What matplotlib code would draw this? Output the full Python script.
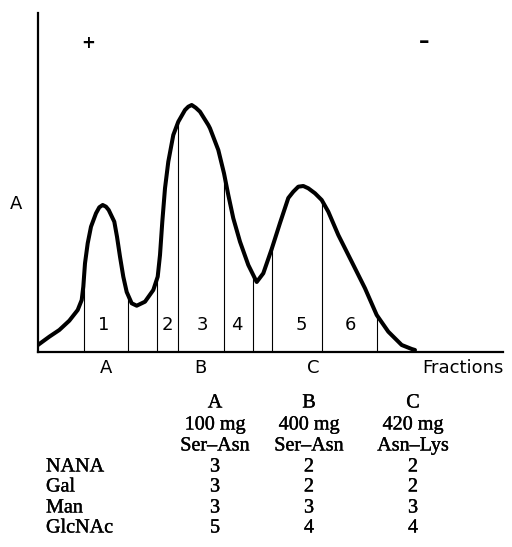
import numpy as np
import matplotlib
matplotlib.use('Agg')
import matplotlib.pyplot as plt
import matplotlib.patheffects as pe

# elution profile (fraction position, absorbance), arbitrary units
pos = [0, 1.3, 11.3, 21.3, 31.3, 39.7, 43.7, 45.3, 47, 49.7, 53, 58, 61.3, 64.7, 68,
       70.7, 76.3, 79, 82, 85.3, 88.7, 93.7, 98.7, 107, 115.3, 119.7, 122, 124.3, 127,
       130.3, 135.3, 140.3, 147, 150.3, 153.7, 157.7, 162, 170.3, 172, 180.3, 186, 190.3,
       195.3, 202, 210.3, 218.7, 225.3, 233.7, 242, 250.3, 255.3, 260.3, 265.3, 270.3,
       277, 283.7, 290.3, 300.3, 313.7, 327, 338.7, 350.3, 363.7, 373.7, 377]
absb = [7, 8, 15.3, 22, 31.3, 42, 52, 65.3, 88.7, 108.7, 125.3, 138.7, 144.7, 147, 145.3,
        142, 130.3, 115.3, 95.3, 75.3, 60, 48.7, 46.3, 50.3, 62, 75.3, 97, 130.3, 163.7,
        190.3, 217, 230.3, 242, 245.3, 247, 244.3, 240.3, 227, 223.7, 202, 178.7, 157,
        133.7, 110.3, 87, 70, 78.7, 103, 129, 154, 160.3, 165.3, 166, 163.7, 158.7, 152,
        140.3, 117, 90.3, 63.7, 37, 20.3, 7, 3, 2]
# fraction boundaries
cuts = [46, 90, 119, 140, 186, 214.5, 234, 284, 339]
frac_nums = ['1', '2', '3', '4', '5', '6']
frac_num_x = [66, 129, 164, 199, 263, 312]
peak_names = ['A', 'B', 'C']
peak_x = [68, 162, 275]

# composition table
cols = ['A', 'B', 'C']
amounts = ['100 mg', '400 mg', '420 mg']
peptides = ['Ser\u2013Asn', 'Ser\u2013Asn', 'Asn\u2013Lys']
sugars = ['NANA', 'Gal', 'Man', 'GlcNAc']
counts = [[3, 2, 2],
          [3, 2, 2],
          [3, 3, 3],
          [5, 4, 4]]

W, H = 512, 547
fig = plt.figure(figsize=(W/100, H/100), dpi=100)
ax = fig.add_axes([38/W, 1-352/H, 465/W, 339/H])
ax.set_xlim(0, 465)
ax.set_ylim(0, 339)
for s in ['top', 'right']:
    ax.spines[s].set_visible(False)
for s in ['left', 'bottom']:
    ax.spines[s].set_linewidth(1.6)
ax.set_xticks([])
ax.set_yticks([])
ax.patch.set_alpha(0)

ax.plot(pos, absb, color='black', lw=2.9, solid_joinstyle='round', solid_capstyle='round')
for c in cuts:
    ax.vlines(c, 0, np.interp(c, pos, absb), color='black', lw=0.8)
for n, x in zip(frac_nums, frac_num_x):
    ax.text(x, 27, n, ha='center', va='center', fontsize=13)
for n, x in zip(peak_names, peak_x):
    ax.text(x, -16, n, ha='center', va='center', fontsize=13, clip_on=False)
ax.text(384, -16, 'Fractions', ha='left', va='center', fontsize=13, clip_on=False)
ax.text(-22, 148, 'A', ha='center', va='center', fontsize=13, clip_on=False)
ax.text(50, 309, '+', ha='center', va='center', fontsize=12, fontweight='bold')
ax.text(386, 310, '\u2013', ha='center', va='center', fontsize=15, fontweight='bold')

# table below
serif = 'Liberation Serif'
col_x = [215, 309, 413]
heavy = [pe.withStroke(linewidth=0.25, foreground='black')]
def ft(x, y, s, ha='center'):
    fig.text(x/W, 1-y/H, s, ha=ha, va='center', fontsize=14.5, family=serif,
             path_effects=heavy)

for i, cx in enumerate(col_x):
    ft(cx, 403, cols[i])
    ft(cx, 425, amounts[i])
    ft(cx, 446, peptides[i])
row_y = [467, 487, 508, 528]
for j, sg in enumerate(sugars):
    ft(46, row_y[j], sg, ha='left')
    for i, cx in enumerate(col_x):
        ft(cx, row_y[j], str(counts[j][i]))

fig.savefig('out.png', dpi=100)
